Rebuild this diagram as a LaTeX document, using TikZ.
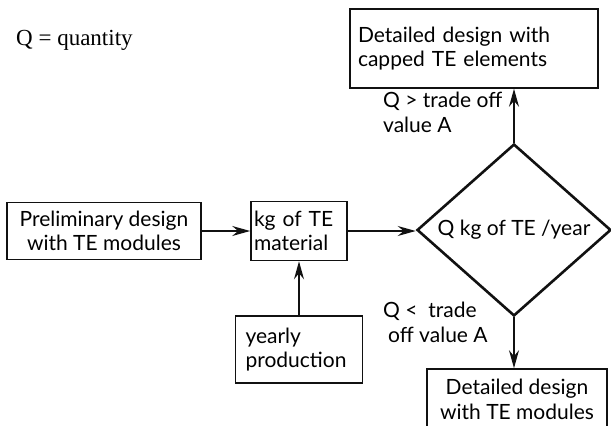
\documentclass[tikz,border=0pt]{standalone}
\usepackage{fontspec}
\setmainfont{Liberation Serif}
\setsansfont{Lato}
\usetikzlibrary{positioning,shapes.geometric,arrows.meta}
\definecolor{ink}{HTML}{111111}

\begin{document}
\begin{tikzpicture}[x=1pt,y=-1pt,
    box/.style={draw=ink,line width=1.6pt,inner ysep=0pt,
                font=\sffamily\fontsize{21}{24.5}\selectfont},
    decision/.style={diamond,draw=ink,line width=2.6pt,inner sep=0pt,
                     minimum width=194pt,minimum height=130pt,
                     font=\sffamily\fontsize{21}{24.5}\selectfont},
    note/.style={inner sep=0pt,align=left,anchor=west,
                 font=\sffamily\fontsize{21}{25}\selectfont},
    arr/.style={-{Stealth[length=18pt,width=10pt,inset=6pt]},line width=1.5pt,draw=ink}]
    \useasboundingbox (0,0) rectangle (611,426);
    \node[inner sep=0pt,anchor=west,font=\fontsize{23}{27}\selectfont] (key) at (16,40) {Q = quantity};
    % left to right along the middle row
    \node[box,minimum width=194pt,minimum height=57pt,align=center] (prelim) at (104,231) {Preliminary design\\with TE modules};
    \node[box,text width=90pt,inner xsep=3pt,minimum height=59pt,align=left] (kgte) at (299,231) {kg of TE\\material};
    \node[box,text width=107pt,inner xsep=10pt,minimum height=67pt,align=left] (yearly) at (299,349.5) {yearly\\production};
    \node[decision] (qyear) at (514,230) {Q kg of TE /year};
    % the two outcomes
    \node[box,text width=232pt,inner xsep=8pt,minimum height=79pt,align=left] (capped) at (474,48.5) {Detailed design with\\capped TE elements};
    \node[box,minimum width=180pt,minimum height=61pt,align=center] (modules) at (517,399.5) {Detailed design\\with TE modules};
    \node[note] (high) at (383,112.5) {Q > trade off\\value A};
    \node[note] (low) at (383,322.5) {Q <~ trade\\\hspace*{5pt}off value A};
    \draw[arr] (prelim) -- (kgte);
    \draw[arr] (kgte) -- (kgte -| qyear.west);
    \draw[arr] (yearly) -- (kgte);
    \draw[arr] (qyear.north) -- (qyear.north |- capped.south);
    \draw[arr] (qyear.south) -- (qyear.south |- modules.north);
\end{tikzpicture}
\end{document}
